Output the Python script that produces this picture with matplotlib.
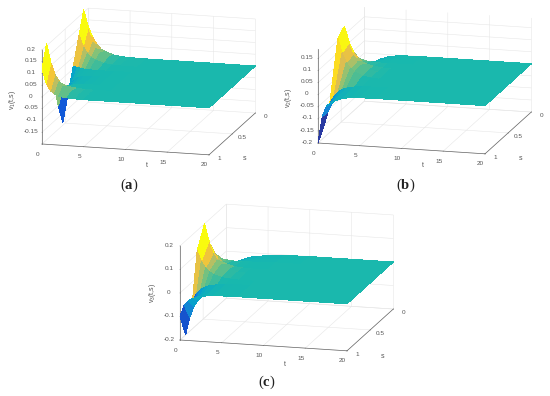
import numpy as np
import matplotlib
matplotlib.use("Agg")
import matplotlib.pyplot as plt
from matplotlib.colors import LinearSegmentedColormap, Normalize
from mpl_toolkits.mplot3d import proj3d

W, H = 550, 396
plt.rcParams['font.family'] = ['Liberation Sans', 'DejaVu Sans']
plt.rcParams['mathtext.fontset'] = 'custom'
plt.rcParams['mathtext.rm'] = 'Liberation Sans'
plt.rcParams['mathtext.it'] = 'Liberation Sans'
plt.rcParams['mathtext.bf'] = 'Liberation Serif:bold'

t_vals = [0, 0.5, 1, 1.5, 2, 3, 4, 5, 7, 10, 20]

s_a = [0, .1, .2, .325, .45, .55, .65, .775, .9, 1]
v1 = [
 [.12, .08, .05, .03, .02, .008, .003, .001, 0, 0, 0],
 [.21, .13, .08, .05, .033, .014, .005, .002, 0, 0, 0],
 [.12, .075, .045, .028, .018, .007, .002, .001, 0, 0, 0],
 [.01, .006, .003, .001, 0, -.001, -.001, 0, 0, 0, 0],
 [-.1, -.04, -.016, -.01, -.006, -.004, -.002, -.001, 0, 0, 0],
 [-.19, -.07, -.03, -.018, -.012, -.006, -.003, -.001, 0, 0, 0],
 [-.1, -.04, -.016, -.01, -.006, -.004, -.002, -.001, 0, 0, 0],
 [.05, .03, .02, .012, .008, .003, .001, 0, 0, 0, 0],
 [.21, .13, .08, .05, .033, .014, .005, .002, 0, 0, 0],
 [.12, .06, .03, .015, .008, .003, .001, 0, 0, 0, 0],
]
s_b = [0, .1, .2, .32, .43, .57, .745, .87, 1]
v2 = [
 [-.05, -.05, -.04, -.03, -.02, -.008, -.003, -.001, 0, 0, 0],
 [-.03, -.03, -.025, -.02, -.012, -.005, -.002, -.001, 0, 0, 0],
 [.02, .012, .008, .004, .002, 0, 0, 0, 0, 0, 0],
 [.096, .06, .037, .023, .014, .006, .002, .001, 0, 0, 0],
 [.185, .115, .07, .044, .028, .011, .004, .001, 0, 0, 0],
 [.16, .10, .06, .038, .024, .01, .003, .001, 0, 0, 0],
 [-.08, -.05, -.03, -.019, -.012, -.005, -.002, -.001, 0, 0, 0],
 [-.15, -.09, -.055, -.035, -.02, -.008, -.003, -.001, 0, 0, 0],
 [-.2, -.09, -.045, -.03, -.02, -.008, -.003, -.001, 0, 0, 0],
]
s_c = [0, .1, .19, .36, .47, .63, .73, .88, 1]
v3 = [
 [-.06, -.055, -.05, -.04, -.03, -.018, -.012, -.008, -.002, 0, 0],
 [-.03, -.03, -.03, -.025, -.02, -.012, -.008, -.005, -.001, 0, 0],
 [.004, .002, 0, -.002, -.004, -.004, -.003, -.002, 0, 0, 0],
 [.097, .06, .037, .023, .014, .005, .001, 0, 0, 0, 0],
 [.2, .125, .076, .048, .03, .012, .004, .001, 0, 0, 0],
 [.113, .07, .043, .027, .017, .006, .002, 0, 0, 0, 0],
 [-.08, -.05, -.03, -.02, -.013, -.006, -.003, -.001, 0, 0, 0],
 [-.2, -.125, -.076, -.048, -.03, -.012, -.005, -.002, 0, 0, 0],
 [-.1, -.05, -.03, -.02, -.013, -.006, -.003, -.001, 0, 0, 0],
]

z_ticks_a = [-.15, -.1, -.05, 0, .05, .1, .15, .2]
z_labels_a = ['-0.15', '-0.1', '-0.05', '0', '0.05', '0.1', '0.15', '0.2']
z_ticks_b = [-.2, -.15, -.1, -.05, 0, .05, .1, .15]
z_labels_b = ['-0.2', '-0.15', '-0.1', '-0.05', '0', '0.05', '0.1', '0.15']
z_ticks_c = [-.2, -.1, 0, .1, .2]
z_labels_c = ['-0.2', '-0.1', '0', '0.1', '0.2']
t_ticks = [0, 5, 10, 15, 20]
s_ticks = [0, 0.5, 1]
s_labels = ['0', '0.5', '1']

parula = LinearSegmentedColormap.from_list('parula', [
    '#352a87', '#0f5cdd', '#1481d6', '#06a4ca', '#18b8ae', '#7fc27a',
    '#d9bd55', '#fdc92e', '#f9fb0e'])
norm = Normalize(-0.19, 0.19)

fig = plt.figure(figsize=(W / 100, H / 100), dpi=100, facecolor='white')
TXT = '#555555'


def corner_px(ax, x, y, z):
    px, py, _ = proj3d.proj_transform(x, y, z, ax.get_proj())
    return ax.transData.transform((px, py))


def face_values(z):
    out = z.copy()
    for i in range(z.shape[0] - 1):
        for j in range(z.shape[1] - 1):
            c = z[i:i + 2, j:j + 2].ravel()
            top = c.max()
            out[i, j] = top if top > 0.015 else z[i:i + 2, j].mean()
    return out


def panel(s, v, zlim, zt, zl, origin, t_end, caption, cap_xy, zname, zname_xy, t_xy, s_xy):
    ax = fig.add_axes([0.1, 0.1, 0.5, 0.5 * W / H], projection='3d')
    T, S = np.meshgrid(t_vals, s)
    Z = np.array(v, dtype=float)
    ax.plot_surface(T, S, Z, facecolors=parula(norm(face_values(Z))),
                    rstride=1, cstride=1, linewidth=0, antialiased=False, shade=False)
    ax.set_proj_type('ortho')
    ax.view_init(elev=14, azim=-75)
    ax.set_box_aspect((173, 179, 97))
    ax.set_xlim(0, 20)
    ax.set_ylim(1, 0)
    ax.set_zlim(*zlim)
    ax.set_xticks(t_ticks)
    ax.set_xticklabels([str(k) for k in t_ticks])
    ax.set_yticks(s_ticks)
    ax.set_yticklabels(s_labels)
    ax.set_zticks(zt)
    ax.set_zticklabels(zl)
    ax.patch.set_alpha(0)
    for a, pad in ((ax.xaxis, 1), (ax.yaxis, -2), (ax.zaxis, -3)):
        a.set_pane_color((1, 1, 1, 0))
        a.pane.set_edgecolor('#dddddd')
        a.line.set_color('#666666')
        a.line.set_linewidth(0.5)
        a._axinfo['grid'].update(color='#e6e6e6', linewidth=0.4)
        a._axinfo['tick'].update(inward_factor=0.03, outward_factor=0.0, linewidth={True: 0.4, False: 0.3})
        a.set_tick_params(labelsize=4.6, labelcolor=TXT, pad=pad, color='#666666')
        for lab in a.get_ticklabels():
            lab.set_va('bottom')
    ax.zaxis.set_ticks_position('upper')
    ax.zaxis.set_label_position('upper')
    for _ in range(3):
        ax.apply_aspect()
        p0 = corner_px(ax, 0, 1, zlim[0])
        p1 = corner_px(ax, 20, 1, zlim[0])
        k = (t_end[0] - origin[0]) / (p1[0] - p0[0])
        pos = ax.get_position()
        ax.set_position([pos.x0, pos.y0, pos.width * k, pos.height * k])
        ax.apply_aspect()
        p0 = corner_px(ax, 0, 1, zlim[0])
        pos = ax.get_position()
        ax.set_position([pos.x0 + (origin[0] - p0[0]) / W,
                         pos.y0 + ((H - origin[1]) - p0[1]) / H, pos.width, pos.height])
    fig.text(t_xy[0] / W, 1 - t_xy[1] / H, 't', fontsize=5, color=TXT, ha='center', va='center')
    fig.text(s_xy[0] / W, 1 - s_xy[1] / H, 's', fontsize=5, color=TXT, ha='center', va='center')
    fig.text(zname_xy[0] / W, 1 - zname_xy[1] / H, zname, fontsize=5, color=TXT,
             rotation=90, ha='center', va='center')
    fig.text(cap_xy[0] / W, 1 - cap_xy[1] / H, '($\\mathbf{%s}$)' % caption, fontsize=10.5,
             family='Liberation Serif', ha='center', va='center', color='#222222')
    return ax


panel(s_a, v1, (-.2, .2), z_ticks_a, z_labels_a, (42, 144), (209, 155), 'a', (129, 185),
      r'v$_1$(t,s)', (12, 100), (147, 166), (245, 159))
panel(s_b, v2, (-.2, .19), z_ticks_b, z_labels_b, (318, 143), (485, 154), 'b', (406, 185),
      r'v$_2$(t,s)', (288, 98), (423, 166), (521, 159))
panel(s_c, v3, (-.2, .2), z_ticks_c, z_labels_c, (180, 340), (347, 353), 'c', (267, 382),
      r'v$_3$(t,s)', (153, 293), (285, 364), (383, 357))

fig.savefig('out.png', dpi=100, facecolor='white')
